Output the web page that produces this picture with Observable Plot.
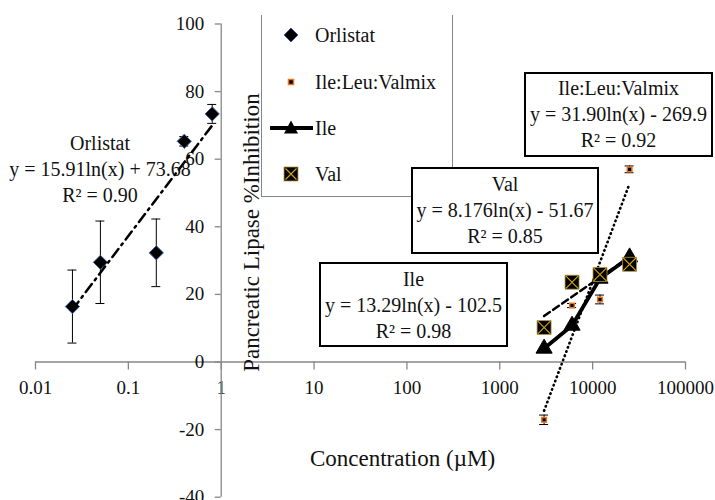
<!DOCTYPE html>
<html>
<head>
<meta charset="utf-8">
<script src="https://cdn.jsdelivr.net/npm/d3@7"></script>
<script src="https://cdn.jsdelivr.net/npm/@observablehq/plot@0.6"></script>
<style>
  body { margin: 0; background: #fff; }
  #wrap { position: relative; width: 715px; height: 500px; overflow: hidden;
          font-family: "Liberation Serif", "DejaVu Serif", serif; color: #111; }
  #wrap > svg { position: absolute; left: 0; top: 0; }
  .note { position: absolute; box-sizing: border-box; text-align: center;
          font-family: "Liberation Serif", serif;
          font-size: 20px; line-height: 26px; white-space: nowrap; }
  .box { background: #fff; border: 2px solid #000; }
  #legend { position: absolute; left: 261px; top: 15px; width: 192px; height: 182px;
            box-sizing: border-box; border: 1.5px solid #858585; border-top: none; background: transparent; }
  #legend svg { position: absolute; left: 0; top: 0; }
  .lg { position: absolute; left: 53px; font-family: "Liberation Serif", serif;
        font-size: 20px; line-height: 24px; white-space: nowrap; }
</style>
</head>
<body>
<div id="wrap"></div>
<script>
// ---- tick labels ----
const xTicks = [0.01, 0.1, 1, 10, 100, 1000, 10000, 100000];
const xTickLabels = ["0.01", "0.1", "1", "10", "100", "1000", "10000", "100000"];
const yTicks = [-40, -20, 0, 20, 40, 60, 80, 100];
const yTickLabels = ["-40", "-20", "0", "20", "40", "60", "80", "100"];

// ---- series: concentration (µM) and % inhibition ----
const orlConc = [0.025, 0.05, 0.2, 0.4, 0.8];
const orlInhib = [16.4, 29.5, 32.3, 65.3, 73.4];
const orlErr = [10.8, 12.2, 10.0, 1.4, 2.8];

const mixConc = [3000, 6000, 12000, 25000];
const mixInhib = [-17.1, 16.7, 18.5, 57.0];
const mixErr = [1.4, 0.6, 1.3, 1.0];

const ileConc = [3000, 6000, 12000, 25000];
const ileInhib = [4.0, 10.8, 24.7, 31.0];

const valConc = [3000, 6000, 12000, 25000];
const valInhib = [10.2, 23.6, 25.9, 28.9];

// ---- trendline end points ----
const orlTrendConc = [0.025, 0.8];
const orlTrendInhib = [15.5, 70.0];
const mixTrendConc = [3000, 25000];
const mixTrendInhib = [-14.4, 52.8];
const valTrendConc = [3000, 25000];
const valTrendInhib = [13.6, 31.1];

const rows = (cs, vs, es) => cs.map((c, i) => ({c, v: vs[i], e: es ? es[i] : 0}));
const orl = rows(orlConc, orlInhib, orlErr);
const mix = rows(mixConc, mixInhib, mixErr);
const ile = rows(ileConc, ileInhib);
const val = rows(valConc, valInhib);
const orlTrend = rows(orlTrendConc, orlTrendInhib);
const mixTrend = rows(mixTrendConc, mixTrendInhib);
const valTrend = rows(valTrendConc, valTrendInhib);

const axisGray = "#878787";

const chart = Plot.plot({
  width: 715,
  height: 500,
  marginLeft: 35,
  marginRight: 30,
  marginTop: 23.5,
  marginBottom: 3.3,
  x: {type: "log", domain: [0.01, 100000], axis: null},
  y: {domain: [-40, 100], axis: null},
  style: {fontFamily: "'Liberation Serif', serif", background: "transparent", color: "#111"},
  marks: [
    // x axis
    Plot.ruleY([0], {x1: xTicks[0], x2: xTicks[xTicks.length - 1], stroke: axisGray, strokeWidth: 1.3}),
    Plot.ruleX(xTicks, {x: d => d, y1: () => 0, y2: () => 0, insetBottom: -8, stroke: axisGray, strokeWidth: 1.3}),
    Plot.text(xTicks, {x: d => d, y: () => 0, text: (d, i) => xTickLabels[i], dy: 26, fontSize: 19, fill: "#111"}),
    // y axis (crossing at x = 1)
    Plot.ruleX([1], {y1: yTicks[0], y2: yTicks[yTicks.length - 1], stroke: axisGray, strokeWidth: 1.3}),
    Plot.ruleY(yTicks, {y: d => d, x1: () => 1, x2: () => 1, insetLeft: -6, stroke: axisGray, strokeWidth: 1.3}),
    Plot.text(yTicks, {x: () => 1, y: d => d, text: (d, i) => yTickLabels[i], dx: -17, textAnchor: "end", fontSize: 19, fill: "#111"}),
    // axis titles
    Plot.text(["Concentration (µM)"], {frameAnchor: "bottom", lineAnchor: "middle", textAnchor: "middle", dx: 42, dy: -39, fontSize: 23, fill: "#111"}),
    Plot.text(["Pancreatic Lipase %Inhibition"], {frameAnchor: "left", lineAnchor: "middle", textAnchor: "middle", rotate: -90, dx: 216, dy: -28, fontSize: 23, fill: "#111"}),

    // Orlistat error bars + diamonds
    Plot.ruleX(orl, {x: "c", y1: d => d.v - d.e, y2: d => d.v + d.e, stroke: "#000", strokeWidth: 1}),
    Plot.ruleY(orl, {y: d => d.v + d.e, x1: "c", x2: "c", insetLeft: -4.5, insetRight: -4.5, stroke: "#000", strokeWidth: 1}),
    Plot.ruleY(orl, {y: d => d.v - d.e, x1: "c", x2: "c", insetLeft: -4.5, insetRight: -4.5, stroke: "#000", strokeWidth: 1}),
    Plot.dot(orl, {x: "c", y: "v", symbol: d3.symbolDiamond2, r: 6.4, fill: "#000", stroke: "#3b5e9e", strokeWidth: 1}),
    Plot.line(orlTrend, {x: "c", y: "v", stroke: "#000", strokeWidth: 2.5, strokeDasharray: "10,5,2,5"}),

    // Ile:Leu:Val mix
    Plot.ruleX(mix, {x: "c", y1: d => d.v - d.e, y2: d => d.v + d.e, stroke: "#000", strokeWidth: 1}),
    Plot.ruleY(mix, {y: d => d.v + d.e, x1: "c", x2: "c", insetLeft: -4.5, insetRight: -4.5, stroke: "#000", strokeWidth: 1}),
    Plot.ruleY(mix, {y: d => d.v - d.e, x1: "c", x2: "c", insetLeft: -4.5, insetRight: -4.5, stroke: "#000", strokeWidth: 1}),
    Plot.dot(mix, {x: "c", y: "v", symbol: "square", r: 2.6, fill: "#000", stroke: "#e8731c", strokeWidth: 1.5}),
    Plot.line(mixTrend, {x: "c", y: "v", stroke: "#000", strokeWidth: 2.6, strokeDasharray: "0.5,4", strokeLinecap: "round"}),

    // Ile
    Plot.line(ile, {x: "c", y: "v", stroke: "#000", strokeWidth: 3.8}),
    Plot.dot(ile, {x: "c", y: "v", symbol: "triangle", r: 6, fill: "#000", stroke: "#000", strokeWidth: 1}),

    // Val
    Plot.line(valTrend, {x: "c", y: "v", stroke: "#000", strokeWidth: 2.6, strokeDasharray: "7,4"}),
    Plot.dot(val, {x: "c", y: "v", symbol: "square", r: 7.9, fill: "#000", stroke: "#b79a3c", strokeWidth: 0.8}),
    Plot.dot(val, {x: "c", y: "v", symbol: "times", r: 5.8, fill: "none", stroke: "#d4a514", strokeWidth: 1.1})
  ]
});

const wrap = document.getElementById("wrap");
wrap.appendChild(chart);

// legend
const legend = document.createElement("div");
legend.id = "legend";
legend.innerHTML = `
<svg width="192" height="182">
  <polygon points="29,13 36,20 29,27 22,20" fill="#000" stroke="#3b5e9e" stroke-width="1"/>
  <rect x="26.5" y="64.5" width="5" height="5" fill="#000" stroke="#e8731c" stroke-width="1.5"/>
  <line x1="8" y1="113" x2="51" y2="113" stroke="#000" stroke-width="3.8"/>
  <polygon points="29,105.5 36,118.5 22,118.5" fill="#000"/>
  <rect x="22" y="152" width="14" height="14" fill="#000" stroke="#b79a3c" stroke-width="0.8"/>
  <path d="M23.5,153.5L34.5,164.5M23.5,164.5L34.5,153.5" stroke="#d4a514" stroke-width="1.1"/>
</svg>
<div class="lg" style="top:8px">Orlistat</div>
<div class="lg" style="top:55px">Ile:Leu:Valmix</div>
<div class="lg" style="top:101px">Ile</div>
<div class="lg" style="top:147px">Val</div>`;
wrap.appendChild(legend);

// trendline annotations
function note(cls, left, top, width, height, lines, padTop) {
  const d = document.createElement("div");
  d.className = "note " + cls;
  Object.assign(d.style, {left: left + "px", top: top + "px", width: width + "px", height: height + "px", paddingTop: padTop + "px"});
  d.innerHTML = lines.map(s => `<div>${s}</div>`).join("");
  wrap.appendChild(d);
}
note("", 0, 130, 200, 80, ["Orlistat", "y = 15.91ln(x) + 73.68", "R² = 0.90"], 0);
note("box", 524, 72, 189, 85, ["Ile:Leu:Valmix", "y = 31.90ln(x) - 269.9", "R² = 0.92"], 1);
note("box", 411, 167, 188, 87, ["Val", "y = 8.176ln(x) - 51.67", "R² = 0.85"], 2);
note("box", 319, 262, 189, 85, ["Ile", "y = 13.29ln(x) - 102.5", "R² = 0.98"], 2);
</script>
</body>
</html>
